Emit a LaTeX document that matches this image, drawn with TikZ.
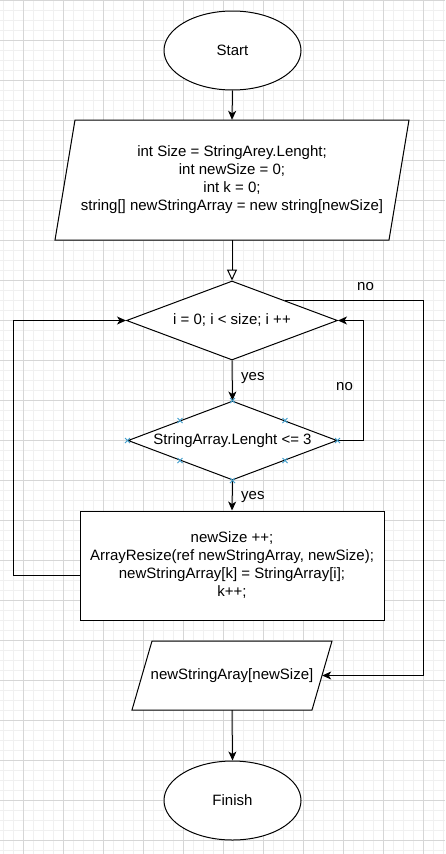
\documentclass[tikz,border=0pt]{standalone}
\usepackage{fontspec}
\setmainfont{Liberation Sans}
\usetikzlibrary{shapes.geometric,arrows.meta,calc}
\definecolor{gridmajor}{RGB}{214,214,214}
\definecolor{gridminor}{RGB}{240,240,240}
\definecolor{markerblue}{RGB}{64,158,204}
\begin{document}
\begin{tikzpicture}[x=1pt,y=-1pt,
  every node/.style={font=\fontsize{15}{18}\selectfont, text=black},
  line/.style={line width=1pt, draw=black},
  arr/.style={line, -{Stealth[length=9pt,width=8pt,inset=2.5pt]}},
  openarr/.style={line, -{Triangle[open,length=11pt,width=10pt]}},
  term/.style={ellipse, draw, line width=1pt, fill=white, minimum width=137pt, minimum height=79pt, inner sep=0pt},
  dec/.style={diamond, draw, line width=1pt, fill=white, inner sep=0pt, aspect=2.67},
  proc/.style={rectangle, draw, line width=1pt, fill=white, inner sep=0pt, align=center},
  iotext/.style={rectangle, inner sep=0pt, align=center},
  lbl/.style={inner sep=0pt, anchor=base west},
  mk/.style={markerblue, line width=0.8pt}
]
\useasboundingbox (0,0) rectangle (445,854);
\fill[white] (0,0) rectangle (445,854);
% grid
\foreach \x in {3,13,...,443} \draw[gridminor, line width=0.8pt] (\x,0) -- (\x,854);
\foreach \y in {0,10,...,850} \draw[gridminor, line width=0.8pt] (0,\y) -- (445,\y);
\foreach \x in {23,63,...,423} \draw[gridmajor, line width=0.9pt] (\x,0) -- (\x,854);
\foreach \y in {0,40,...,840} \draw[gridmajor, line width=0.9pt] (0,\y) -- (445,\y);

% shapes
\node[term] (start) at (232.5,50.5) {Start};

\filldraw[line, fill=white] (75,120) -- (409,120) -- (389,240) -- (55,240) -- cycle;
\node[iotext, minimum width=354pt, minimum height=120pt] (p1) at (232,180)
  {int Size = StringArey.Lenght;\\int newSize = 0;\\int k = 0;\\string[] newStringArray = new string[newSize]};

\node[dec, minimum width=211pt, minimum height=79pt] (d1) at (232,320.5) {i = 0; i < size; i ++};
\node[dec, minimum width=209pt, minimum height=79pt] (d2) at (232.5,440.5) {StringArray.Lenght <= 3};

\node[proc, minimum width=304pt, minimum height=109pt] (box) at (232,565.5)
  {newSize ++;\\ArrayResize(ref newStringArray, newSize);\\newStringArray[k] = StringArray[i];\\k++;};

\filldraw[line, fill=white] (152,641) -- (332,641) -- (312,710) -- (132,710) -- cycle;
\node[iotext, minimum width=200pt, minimum height=69pt] (p2) at (232,675.5) {newStringAray[newSize]};

\node[term] (fin) at (232.5,800.5) {Finish};

% helper coordinates
\coordinate (d1ne) at ($(d1.north)!0.5!(d1.east)$);
\coordinate (p2e) at ($(p2.east)+(-10,0)$);
\coordinate (railR) at (423,0);
\coordinate (railM) at (363,0);
\coordinate (railL) at (13,0);
\coordinate (boxout) at ($(box.west)+(0,9.5)$);

% connectors
\draw[arr] (start.south) -- (p1.north);
\draw[openarr] (p1.south) -- (d1.north);
\draw[arr] (d1.south) -- (d2.north);
\draw[arr] (d2.south) -- (box.north);
\draw[arr] (p2.south) -- (fin.north);
\draw[arr] (d1ne) -- (d1ne -| railR) -- (railR |- p2e) -- (p2e);
\draw[arr] (d2.east) -- (d2.east -| railM) -- (railM |- d1.east) -- (d1.east);
\draw[arr] (boxout) -- (boxout -| railL) -- (railL |- d1.west) -- (d1.west);

% labels
\node[lbl] (lno1) at (357,290) {no};
\node[lbl] (lyes1) at (241,380) {yes};
\node[lbl] (lno2) at (336,390) {no};
\node[lbl] (lyes2) at (241,499.5) {yes};

% selection markers on d2
\foreach \p in {($(d2.north)$), ($(d2.south)$), ($(d2.west)$), ($(d2.east)$),
  ($(d2.north)!0.5!(d2.west)$), ($(d2.north)!0.5!(d2.east)$),
  ($(d2.south)!0.5!(d2.west)$), ($(d2.south)!0.5!(d2.east)$)}
  \draw[mk] \p +(-2.5,-2.5) -- +(2.5,2.5) +(-2.5,2.5) -- +(2.5,-2.5);
\end{tikzpicture}
\end{document}
